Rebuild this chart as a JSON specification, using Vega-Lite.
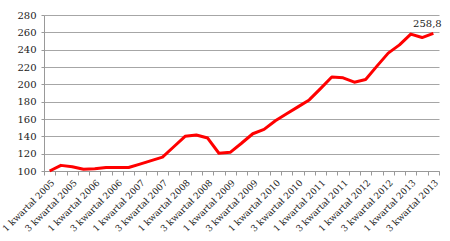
{
  "$schema": "https://vega.github.io/schema/vega-lite/v6.json",
  "autosize": "none",
  "width": 395,
  "height": 156,
  "padding": {"left": 44, "top": 15, "right": 11, "bottom": 70},
  "background": "white",
  "config": {"view": {"stroke": null}},
  "data": {"values": [
    {"q": "1 kwartał 2005", "v": 100},
    {"q": "2 kwartał 2005", "v": 106.5},
    {"q": "3 kwartał 2005", "v": 105},
    {"q": "4 kwartał 2005", "v": 102},
    {"q": "1 kwartał 2006", "v": 102.5},
    {"q": "2 kwartał 2006", "v": 104},
    {"q": "3 kwartał 2006", "v": 104},
    {"q": "4 kwartał 2006", "v": 104},
    {"q": "1 kwartał 2007", "v": 108},
    {"q": "2 kwartał 2007", "v": 112},
    {"q": "3 kwartał 2007", "v": 116},
    {"q": "4 kwartał 2007", "v": 128},
    {"q": "1 kwartał 2008", "v": 140},
    {"q": "2 kwartał 2008", "v": 141.5},
    {"q": "3 kwartał 2008", "v": 138},
    {"q": "4 kwartał 2008", "v": 120.5},
    {"q": "1 kwartał 2009", "v": 121.5},
    {"q": "2 kwartał 2009", "v": 132},
    {"q": "3 kwartał 2009", "v": 143},
    {"q": "4 kwartał 2009", "v": 148},
    {"q": "1 kwartał 2010", "v": 158},
    {"q": "2 kwartał 2010", "v": 166},
    {"q": "3 kwartał 2010", "v": 174},
    {"q": "4 kwartał 2010", "v": 182},
    {"q": "1 kwartał 2011", "v": 195},
    {"q": "2 kwartał 2011", "v": 208.5},
    {"q": "3 kwartał 2011", "v": 207.5},
    {"q": "4 kwartał 2011", "v": 202.5},
    {"q": "1 kwartał 2012", "v": 205.5},
    {"q": "2 kwartał 2012", "v": 221},
    {"q": "3 kwartał 2012", "v": 236},
    {"q": "4 kwartał 2012", "v": 245.5},
    {"q": "1 kwartał 2013", "v": 258},
    {"q": "2 kwartał 2013", "v": 254},
    {"q": "3 kwartał 2013", "v": 258.8, "label": "258,8"}
  ]},
  "encoding": {
    "x": {
      "field": "q", "type": "ordinal", "sort": null,
      "scale": {"type": "band", "paddingInner": 0, "paddingOuter": 0},
      "axis": {
        "title": null,
        "labelAngle": -45,
        "labelFont": "DejaVu Serif",
        "labelFontSize": 9,
        "labelColor": "#222",
        "labelExpr": "(substring(datum.value,0,1) == '2' || substring(datum.value,0,1) == '4') ? '' : datum.value",
        "labelPadding": 3,
        "labelOverlap": false,
        "tickBand": "extent",
        "tickSize": 4,
        "tickColor": "#999",
        "domainColor": "#999",
        "grid": false
      }
    },
    "y": {
      "field": "v", "type": "quantitative",
      "scale": {"domain": [100, 280], "nice": false, "zero": false},
      "axis": {
        "title": null,
        "values": [100, 120, 140, 160, 180, 200, 220, 240, 260, 280],
        "labelFont": "DejaVu Serif",
        "labelFontSize": 10,
        "labelColor": "#222",
        "labelPadding": 5,
        "tickSize": 3,
        "tickColor": "#999",
        "domainColor": "#999",
        "gridColor": "#a6a6a6",
        "gridWidth": 1
      }
    }
  },
  "layer": [
    {"mark": {"type": "line", "color": "#ff0000", "strokeWidth": 3, "strokeJoin": "round"}},
    {
      "transform": [{"filter": "datum.label != null"}],
      "mark": {"type": "text", "font": "DejaVu Serif", "fontSize": 10, "color": "#222", "baseline": "bottom", "align": "center", "dx": -6, "dy": -4},
      "encoding": {"text": {"field": "label"}}
    }
  ]
}
